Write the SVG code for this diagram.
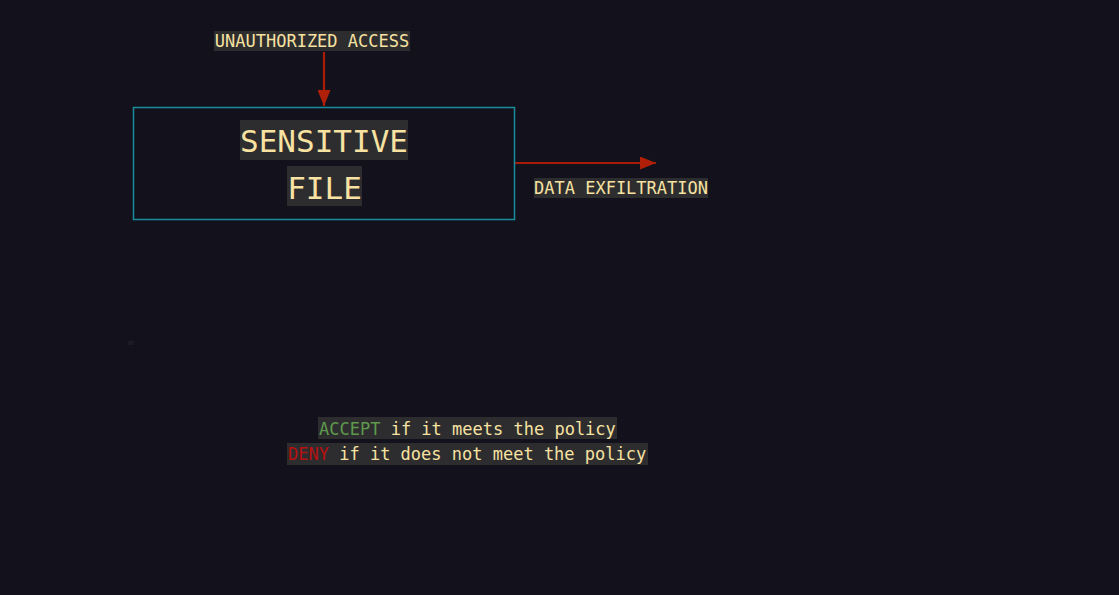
<svg xmlns="http://www.w3.org/2000/svg" width="1119" height="595" viewBox="0 0 1119 595">
<defs>
<style>
.t{font-family:"DejaVu Sans Mono","Liberation Mono",monospace;fill:#f7e2a2}
.bg{fill:#2d2d2f}
.s{font-size:17px}
.b{font-size:31px}
.e{stroke:#a81c06;stroke-width:2.2;fill:none}
</style>
<marker id="ah2" markerWidth="16" markerHeight="13" refX="16" refY="6.5" orient="auto" markerUnits="userSpaceOnUse" viewBox="0 0 16 13">
<path d="M0,0 L16,6.5 L0,13 Z" fill="#b02008"/>
</marker>
</defs>
<rect width="1119" height="595" fill="#13121c"/>
<g id="connectors">
<line class="e" x1="324" y1="52" x2="324" y2="106" marker-end="url(#ah2)"/>
<line class="e" x1="515" y1="163" x2="656" y2="163" marker-end="url(#ah2)"/>
</g>
<g id="file">
<rect x="133.5" y="107.5" width="381" height="112" fill="none" stroke="#1a8d9c" stroke-width="1.5"/>
<rect class="bg" x="240" y="120" width="168" height="40"/>
<text class="t b" x="324" y="152" text-anchor="middle">SENSITIVE</text>
<rect class="bg" x="287" y="166" width="75" height="40"/>
<text class="t b" x="324.5" y="199" text-anchor="middle">FILE</text>
</g>
<g id="unauth">
<rect class="bg" x="214" y="31" width="196" height="20"/>
<text class="t s" x="312" y="47" text-anchor="middle">UNAUTHORIZED ACCESS</text>
</g>
<g id="exfil">
<rect class="bg" x="534" y="178" width="174" height="20"/>
<text class="t s" x="621" y="194" text-anchor="middle">DATA EXFILTRATION</text>
</g>
<g id="mark">
<rect x="128" y="341" width="6" height="4" fill="#1c1b25"/>
</g>
<g id="policy">
<rect class="bg" x="318" y="417" width="299" height="22"/>
<text class="t s" x="319" y="435"><tspan fill="#5f9a4c">ACCEPT</tspan> if it meets the policy</text>
<rect class="bg" x="287" y="443" width="361" height="22"/>
<text class="t s" x="288" y="460"><tspan fill="#b8100e">DENY</tspan> if it does not meet the policy</text>
</g>
</svg>
